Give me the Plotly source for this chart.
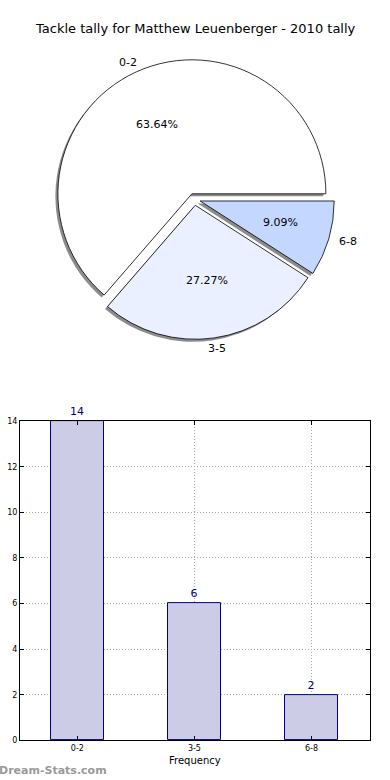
import math
import plotly.graph_objects as go

# ---- data ----
categories = ["0-2", "3-5", "6-8"]
counts = [14, 6, 2]
pie_colors = ["#FFFFFF", "#EAF0FF", "#C4D8FF"]
title_text = "Tackle tally for Matthew Leuenberger - 2010 tally"
y_ticks = [0, 2, 4, 6, 8, 10, 12, 14]
x_title = "Frequency"
y_title = "Occurrences"
watermark = "Dream-Stats.com"

W, H = 390, 780
FONT = "DejaVu Sans"

def px(x):
    return x / W

def py(y):
    # small empirical correction of the vertical placement
    y = (y - 4.3) / 0.9875
    return 1 - y / H

fig = go.Figure()

total = sum(counts)
rot = 90 - 360 * counts[0] / total

cx, cy = 194.4, 199.4
R = 134
pull = 0.045
half = R * (1 + pull)
dom_x = [px(cx - half), px(cx + half)]
dom_y = [py(cy + half), py(cy - half)]

sh = 2.5
fig.add_trace(go.Pie(
    labels=categories, values=counts, sort=False, direction="counterclockwise",
    rotation=rot, pull=[pull] * len(counts),
    marker=dict(colors=["rgba(0,0,0,0.45)"] * len(counts), line=dict(width=0)),
    textinfo="none", hoverinfo="skip", showlegend=False,
    domain=dict(x=[px(cx - sh - half), px(cx - sh + half)],
                y=[py(cy + sh + half), py(cy + sh - half)]),
))

fig.add_trace(go.Pie(
    labels=categories, values=counts, sort=False, direction="counterclockwise",
    rotation=rot, pull=[pull] * len(counts),
    marker=dict(colors=pie_colors, line=dict(color="black", width=0.8)),
    textinfo="none", showlegend=False,
    domain=dict(x=dom_x, y=dom_y),
))

annotations = []
start = 0.0
off = R * pull
for lab, v in zip(categories, counts):
    frac = v / total
    mid = (start + frac / 2) * 2 * math.pi
    start += frac
    c, s = math.cos(mid), math.sin(mid)
    ox, oy = cx + off * c, cy - off * s
    annotations.append(dict(
        x=px(ox + 0.6 * 140 * c), y=py(oy - 0.6 * 127 * s), xref="paper", yref="paper",
        xanchor="center", yanchor="middle",
        text=f"{frac * 100:.2f}%", showarrow=False,
        font=dict(family=FONT, size=11, color="black")))
    annotations.append(dict(
        x=px(ox + 1.1 * 140 * c), y=py(oy - 1.1 * 131 * s), xref="paper", yref="paper",
        xanchor="center", yanchor="middle",
        text=lab, showarrow=False,
        font=dict(family=FONT, size=11, color="black")))

fig.add_trace(go.Bar(
    x=categories, y=counts, width=0.45,
    marker=dict(color="#CCCCE6", line=dict(color="#000080", width=1)),
    text=[str(c) for c in counts], textposition="outside",
    textfont=dict(family=FONT, size=11, color="#000080"),
    cliponaxis=False, showlegend=False, hoverinfo="x+y",
    xaxis="x", yaxis="y",
))

annotations.append(dict(
    x=px(195), y=py(29), xref="paper", yref="paper", xanchor="center", yanchor="middle",
    text=title_text, showarrow=False,
    font=dict(family=FONT, size=13, color="black")))
annotations.append(dict(
    x=px(3), y=py(580), xref="paper", yref="paper", xanchor="right", yanchor="middle",
    text=y_title, textangle=-90,
    showarrow=False, font=dict(family=FONT, size=10, color="black")))
annotations.append(dict(
    x=0, y=py(770), xref="paper", yref="paper", xanchor="left", yanchor="middle",
    xshift=-3, text=f"<b>{watermark}</b>",
    showarrow=False, font=dict(family=FONT, size=11, color="#9a9a9a")))
annotations.append(dict(
    x=px(195), y=py(760), xref="paper", yref="paper", xanchor="center", yanchor="middle",
    text=x_title, showarrow=False, font=dict(family=FONT, size=10, color="black")))

axis_common = dict(
    showline=True, linecolor="black", linewidth=1, mirror="ticks",
    ticks="inside", ticklen=4, tickcolor="black",
    showgrid=True, gridcolor="#a8a8a8", griddash="1px,2px", gridwidth=1,
    zeroline=False, tickfont=dict(family=FONT, size=8, color="black"),
)

fig.update_layout(
    width=W, height=H, margin=dict(l=0, r=0, t=0, b=0),
    paper_bgcolor="white", plot_bgcolor="white",
    xaxis=dict(domain=[px(20), px(370)], range=[-0.49, 2.5], anchor="y",
               **axis_common),
    yaxis=dict(domain=[py(740), py(421)], range=[0, 14], tickvals=y_ticks,
               anchor="x", **axis_common),
    annotations=annotations,
    bargap=0,
)

fig.write_html(
    "out.html",
    config={"displayModeBar": False},
    post_script="document.body.style.margin='0px';"
                "document.documentElement.style.overflow='hidden';"
                "document.body.style.overflow='hidden';",
)
